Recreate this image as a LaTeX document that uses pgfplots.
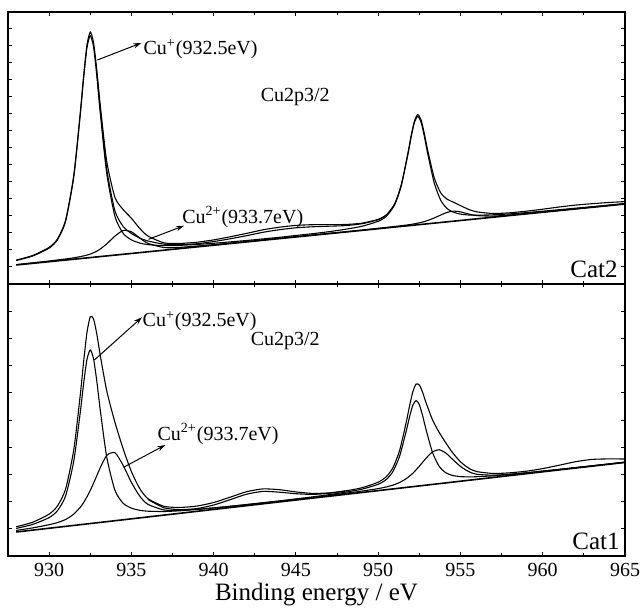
\documentclass[border=0pt]{standalone}
\usepackage{fontspec}
\setmainfont{Liberation Serif}
\usepackage{pgfplots}
\usepackage{pgfplotstable}
\pgfplotsset{compat=1.18}
\usetikzlibrary{arrows.meta}

% Cat2 (upper panel): baseline + components, fit envelope
\pgfplotstableread{
x cup cu2 env
928 23.5 19.4 23.9
929 28.0 21.2 28.5
930 35.9 23.0 36.6
930.5 44.1 24.0 44.9
931 62.7 25.0 63.8
931.5 107.4 26.2 108.9
931.9 170.5 27.4 172.4
932.1 206.5 28.1 208.8
932.3 236.3 28.9 239.1
932.5 248.4 29.9 251.9
932.7 237.0 31.3 241.5
932.9 207.8 32.9 213.6
933.1 172.4 34.9 179.9
933.5 110.7 40.1 122.7
934 67.6 47.9 86.6
934.5 50.6 53.5 74.4
935 44.1 52.2 65.7
935.5 41.0 46.1 55.7
936 39.4 40.7 48.0
937 38.3 36.4 41.1
938 38.7 36.7 40.6
939 39.6 38.0 41.8
940 40.7 39.4 44.1
941 42.1 40.9 47.2
942 43.5 42.5 50.6
943 45.1 44.1 54.2
944 46.7 45.7 56.8
945 48.5 47.4 58.6
946 50.3 49.0 59.3
947 52.3 50.7 59.4
948 54.7 52.2 59.5
949 57.7 53.9 60.8
950 62.7 55.7 64.6
950.5 67.8 56.6 69.2
951 79.1 57.5 80.3
951.4 98.1 58.3 99.3
951.8 129.1 59.1 130.3
952.0 146.8 59.6 148.1
952.2 161.5 60.2 162.9
952.4 167.6 60.8 169.4
952.6 162.2 61.6 164.4
952.8 148.1 62.4 150.7
953.0 131.0 63.5 134.3
953.4 101.4 66.0 106.5
953.8 83.7 69.0 91.1
954.2 75.2 71.7 84.7
954.6 71.6 72.9 81.6
955 69.9 72.1 78.4
955.5 69.0 70.0 74.6
956 68.8 68.4 72.1
957 69.2 67.9 70.5
958 70.1 69.0 71.2
959 71.4 70.5 72.8
960 72.8 72.0 74.8
961 74.3 73.6 77.0
962 75.8 75.3 78.9
963 77.3 76.9 80.3
964 78.9 78.5 81.5
965 80.5 80.2 82.4
}\cattwo

% Cat2 measured curve, where it leaves the fit
\pgfplotstableread{
x y
932.9 211.0
933.1 176.0
933.5 115.0
934 73.0
934.5 57.5
935 50.5
935.5 46.0
936 43.0
937 39.8
938 39.3
939 40.3
940 42.4
941 45.2
942 48.3
943 51.7
944 54.3
945 56.2
946 57.2
947 57.8
948 58.4
949 60.2
950 64.3
950.5 69.0
}\cattwodata

% Cat1 (lower panel)
\pgfplotstableread{
x cup cu2 env
928 27.6 25.6 29.2
929 31.6 28.1 33.8
930 38.4 31.3 41.9
930.5 45.2 33.4 49.9
931 60.0 36.5 66.9
931.5 95.2 41.9 106.5
931.9 144.7 48.9 162.2
932.1 173.0 53.6 194.9
932.3 196.5 59.2 223.6
932.5 206.1 65.6 239.2
932.7 197.2 72.8 237.1
932.9 174.5 80.4 221.7
933.1 147.0 88.0 201.4
933.5 99.0 100.6 165.2
934 65.7 103.3 133.7
934.5 52.7 90.6 107.1
935 47.9 73.6 84.4
935.5 45.7 60.0 67.6
936 44.8 51.7 57.4
937 44.5 46.0 49.6
938 45.3 45.8 48.6
939 46.6 46.7 50.0
940 48.1 48.1 53.5
941 49.7 49.7 58.8
942 51.5 51.3 64.3
943 53.3 53.1 67.1
944 55.1 54.9 66.3
945 57.1 56.7 64.1
946 59.1 58.6 62.6
947 61.3 60.6 63.1
948 63.8 62.7 65.1
949 66.8 64.9 68.2
950 71.7 67.4 73.8
950.5 76.6 69.1 79.4
950.9 84.6 70.9 88.5
951.3 99.8 73.5 105.5
951.7 124.7 77.3 133.4
951.9 138.8 79.8 149.7
952.1 150.6 82.7 164.0
952.3 155.5 86.1 171.9
952.5 151.3 89.8 171.0
952.7 140.3 93.7 163.6
952.9 126.9 97.6 153.7
953.3 103.6 104.1 136.2
953.7 89.8 106.3 123.8
954.1 83.3 103.1 113.3
954.5 80.6 97.0 103.8
955 79.4 89.6 94.2
955.5 79.1 84.4 87.8
956 79.3 81.7 84.4
957 80.2 80.8 82.5
958 81.6 81.8 83.2
959 83.2 83.2 84.8
960 84.9 84.9 87.4
961 86.6 86.6 90.8
962 88.4 88.4 94.3
963 90.2 90.2 96.6
964 92.0 92.0 97.1
965 93.9 93.8 97.0
}\catone

\pgfplotstableread{
x y
936 56.6
937 48.1
938 46.4
939 47.5
940 51.0
941 56.3
942 61.8
943 64.6
944 63.8
945 62.3
946 61.6
947 62.7
948 65.0
}\catonedata

\pgfplotsset{
  xps/.style={
    scale only axis, width=308.5pt, height=136pt,
    xmin=927.5, xmax=965, ymin=0, ymax=272,
    xtick distance=5, minor x tick num=1,
    yticklabels={},
    major tick length=2.2pt, minor tick length=1.6pt,
    axis line style={line width=0.6pt},
    tick style={black, line width=0.5pt},
    tick label style={font=\fontsize{10}{12}\selectfont},
    /pgf/number format/assume math mode=true,
    clip=false,
    cycle list={{black, no markers}},
    every axis plot/.append style={line width=0.55pt, smooth, tension=0.4},
  },
}
\tikzset{
  ann/.style={font=\fontsize{10}{12}\selectfont, anchor=west, inner sep=0pt},
  arr/.style={-{Stealth[length=4pt,width=2.6pt]}, line width=0.5pt},
}

\begin{document}
\begin{tikzpicture}
\useasboundingbox (-4pt,-162.5pt) rectangle (316.5pt,142pt);

\begin{axis}[xps, name=top, at={(0,0)}, anchor=south west,
  xticklabels={}, ytick={17,34,...,255}]
  \addplot[line width=0.8pt, sharp plot] coordinates {(928,19) (965,80)};
  \addplot table[x=x, y=cu2] {\cattwo};
  \addplot table[x=x, y=cup] {\cattwo};
  \addplot table[x=x, y=y] {\cattwodata};
  \addplot table[x=x, y=env] {\cattwo};
  \node[ann] at (axis cs:935.72,235) {Cu\textsuperscript{+}(932.5eV)};
  \draw[arr] (axis cs:932.93,224) -- (axis cs:935.6,241);
  \node[ann] at (axis cs:942.84,187) {Cu2p3/2};
  \node[ann] at (axis cs:938.07,67) {Cu\textsuperscript{2+}(933.7eV)};
  \draw[arr] (axis cs:936.04,44.7) -- (axis cs:938.2,58.3);
  \node[font=\fontsize{12.5}{14}\selectfont, anchor=base east, inner sep=0pt]
    at (rel axis cs:1,0) [xshift=-3.5pt, yshift=3pt] {Cat2};
\end{axis}

\begin{axis}[xps, name=bot, at={(top.south west)}, anchor=north west,
  ytick={27.2,54.4,...,244.8},
  xlabel={Binding energy / eV},
  every axis x label/.style={at={(axis description cs:0.5,0)}, anchor=base,
    yshift=-22pt, font=\fontsize{12.5}{14}\selectfont}]
  \addplot[line width=0.8pt, sharp plot] coordinates {(928,24) (965,93.6)};
  \addplot table[x=x, y=cu2] {\catone};
  \addplot table[x=x, y=cup] {\catone};
  \addplot table[x=x, y=y] {\catonedata};
  \addplot table[x=x, y=env] {\catone};
  \node[ann] at (axis cs:935.66,235) {Cu\textsuperscript{+}(932.5eV)};
  \draw[arr] (axis cs:932.75,196) -- (axis cs:935.64,238.7);
  \node[ann] at (axis cs:942.23,215) {Cu2p3/2};
  \node[ann] at (axis cs:936.57,122) {Cu\textsuperscript{2+}(933.7eV)};
  \draw[arr] (axis cs:934.52,88.7) -- (axis cs:937.06,111);
  \node[font=\fontsize{12.5}{14}\selectfont, anchor=base east, inner sep=0pt]
    at (rel axis cs:1,0) [xshift=-2.5pt, yshift=3.5pt] {Cat1};
\end{axis}
\end{tikzpicture}
\end{document}
